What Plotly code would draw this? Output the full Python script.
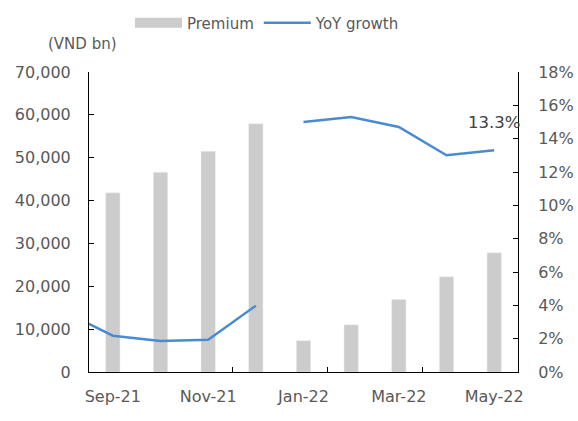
import plotly.graph_objects as go

# months on the x axis (Aug-21 only carries the start of the growth line)
months = ["Aug-21", "Sep-21", "Oct-21", "Nov-21", "Dec-21",
          "Jan-22", "Feb-22", "Mar-22", "Apr-22", "May-22"]
# premium, VND bn (cumulative YTD)
premium = [None, 41800, 46600, 51500, 57900, 7300, 11000, 16900, 22200, 27800]
# YoY growth, split in two segments (2021 / 2022)
growth_2021 = [0.036, 0.0218, 0.0186, 0.0194, 0.0398]
growth_2022 = [0.150, 0.153, 0.147, 0.130, 0.133]
shown_months = ["Sep-21", "Nov-21", "Jan-22", "Mar-22", "May-22"]

FONT = "DejaVu Sans"
GREY = "#595959"
BAR = "#cccccc"
BLUE = "#4a8bd0"

pos = list(range(len(months)))
pos_2021 = pos[:len(growth_2021)]
pos_2022 = pos[len(growth_2021):]

fig = go.Figure()

# bars (legend drawn by a dummy thick line so the key is a wide rectangle)
fig.add_trace(go.Bar(x=pos, y=premium, width=0.3, marker_color=BAR,
                     showlegend=False, hoverinfo="skip"))
fig.add_trace(go.Scatter(x=[None], y=[None], mode="lines", name="Premium",
                         line=dict(color=BAR, width=10)))

fig.add_trace(go.Scatter(x=pos_2021, y=growth_2021, yaxis="y2", mode="lines",
                         name="YoY growth", legendgroup="g",
                         line=dict(color=BLUE, width=2.5)))
fig.add_trace(go.Scatter(x=pos_2022, y=growth_2022, yaxis="y2", mode="lines",
                         name="YoY growth", legendgroup="g", showlegend=False,
                         line=dict(color=BLUE, width=2.5)))

# label on last point
fig.add_annotation(x=pos[-1], y=growth_2022[-1], xref="x", yref="y2",
                   text=f"{growth_2022[-1]*100:.1f}%", showarrow=False,
                   yshift=28, font=dict(family=FONT, size=16.5, color="#404040"))

# unit label above the left axis
fig.add_annotation(x=-0.014, y=1.093, xref="paper", yref="paper",
                   xanchor="center", yanchor="middle",
                   text="(VND bn)", showarrow=False,
                   font=dict(family=FONT, size=15, color=GREY))

tick_idx = [months.index(m) for m in shown_months]
fig.update_layout(
    width=578, height=421,
    margin=dict(l=89, r=60, t=72, b=49),
    paper_bgcolor="white", plot_bgcolor="white",
    font=dict(family=FONT, size=16, color=GREY),
    legend=dict(orientation="h", xref="container", yref="container",
                x=130 / 578, xanchor="left", y=1 - 23 / 421,
                yanchor="middle", font=dict(size=15, color=GREY),
                itemwidth=47, tracegroupgap=0),
    xaxis=dict(range=[0.5, len(months) - 0.5], tickvals=tick_idx,
               ticktext=shown_months, ticks="", showgrid=False, zeroline=False,
               showline=True, linecolor="black", linewidth=1,
               ticklabelstandoff=10, automargin=False,
               minor=dict(tickvals=[i + 0.5 for i in tick_idx[1:]],
                          ticks="inside", ticklen=5, tickcolor="black",
                          showgrid=False)),
    yaxis=dict(range=[0, 70000], dtick=10000, tickformat=",", ticks="inside",
               ticklen=5, tickcolor="black", showgrid=False, zeroline=False,
               showline=True, linecolor="black", linewidth=1,
               ticklabelstandoff=14, automargin=False),
    yaxis2=dict(range=[0, 0.18], dtick=0.02, tickformat=".0%", ticks="inside",
                ticklen=5, tickcolor="black", showgrid=False, zeroline=False,
                showline=True, linecolor="black", linewidth=1,
                overlaying="y", side="right", ticklabelstandoff=16,
                automargin=False),
)

fig.write_html("out.html", config={"displayModeBar": False},
               post_script="document.body.style.margin='0';")
